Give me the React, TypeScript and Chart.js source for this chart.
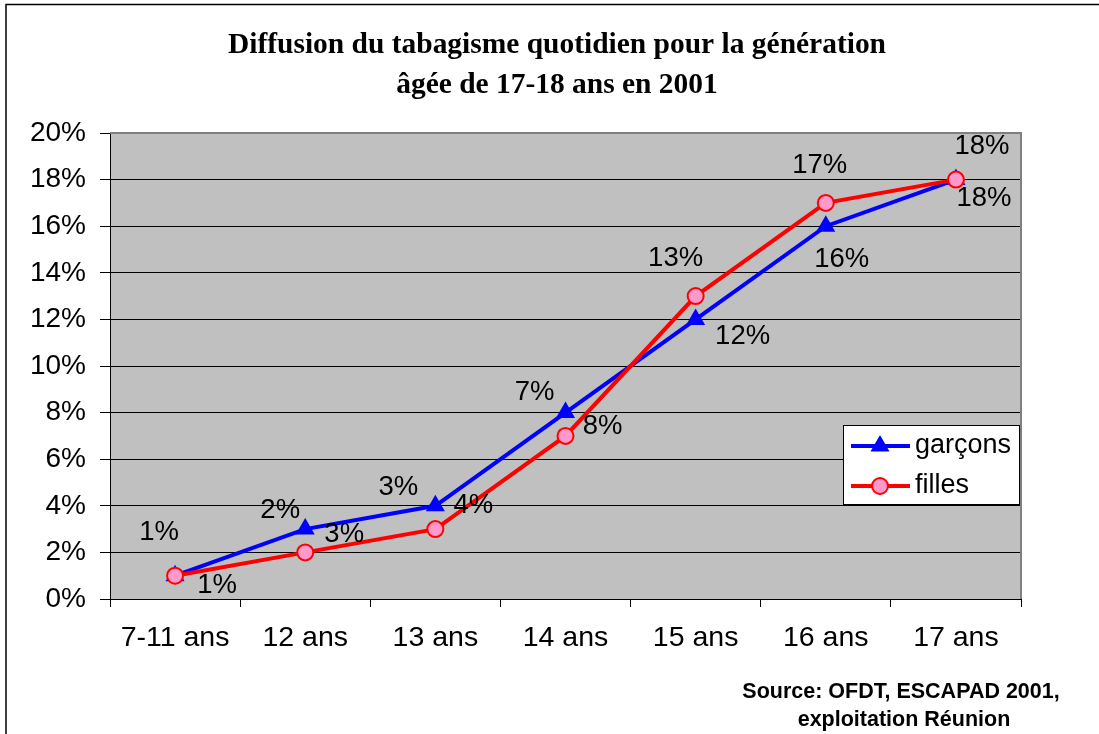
import React, { useEffect, useRef } from 'react';
import { Chart, registerables } from 'chart.js';

Chart.register(...registerables);

const categories = ['7-11 ans', '12 ans', '13 ans', '14 ans', '15 ans', '16 ans', '17 ans'];
const garcons = [1, 3, 4, 8, 12, 16, 18];
const filles = [1, 2, 3, 7, 13, 17, 18];
const yMin = 0;
const yMax = 20;
const yStep = 2;
const titleLines = ['Diffusion du tabagisme quotidien pour la génération', 'âgée de 17-18 ans en 2001'];
const sourceLines = ['Source: OFDT, ESCAPAD 2001,', 'exploitation Réunion'];
const seriesNames = ['garçons', 'filles'];

// label offsets (pixels, from each point to the label centre)
const garconsLabelOffsets = [[42, 10], [39, 5], [38, 0], [37, 14], [47, 17], [16, 33], [28, 19]];
const fillesLabelOffsets = [[-16, -43], [-25, -42], [-37, -42], [-31, -43], [-20, -38], [-6, -37], [26, -33]];

const SANS = '"Liberation Sans", Arial, sans-serif';
const SERIF = '"Liberation Serif", "Times New Roman", serif';

function drawMarker(ctx: CanvasRenderingContext2D, style: string, r: number, x: number, y: number, bw: number) {
  ctx.beginPath();
  if (style === 'triangle') {
    let rad = 0;
    ctx.moveTo(x + Math.sin(rad) * r, y - Math.cos(rad) * r);
    rad += (2 * Math.PI) / 3;
    ctx.lineTo(x + Math.sin(rad) * r, y - Math.cos(rad) * r);
    rad += (2 * Math.PI) / 3;
    ctx.lineTo(x + Math.sin(rad) * r, y - Math.cos(rad) * r);
    ctx.closePath();
  } else {
    ctx.arc(x, y, r, 0, Math.PI * 2);
  }
  ctx.fill();
  if (bw > 0) ctx.stroke();
}

const decorPlugin = {
  id: 'decor',
  beforeDraw(chart: any) {
    const { ctx, chartArea: a } = chart;
    ctx.save();
    ctx.fillStyle = '#ffffff';
    ctx.fillRect(0, 0, chart.width, chart.height);
    ctx.fillStyle = '#C0C0C0';
    ctx.fillRect(a.left, a.top, a.right - a.left, a.bottom - a.top);
    // outer frame
    ctx.strokeStyle = '#000';
    ctx.lineWidth = 1.5;
    ctx.beginPath();
    ctx.moveTo(6, chart.height);
    ctx.lineTo(6, 4.5);
    ctx.lineTo(chart.width, 4.5);
    ctx.stroke();
    // title
    ctx.fillStyle = '#000';
    ctx.font = 'bold 30px ' + SERIF;
    ctx.textAlign = 'center';
    ctx.textBaseline = 'alphabetic';
    const w0 = ctx.measureText(titleLines[0]).width;
    const sx = 658 / w0;
    ctx.save();
    ctx.translate(557, 0);
    ctx.scale(sx, 1);
    ctx.fillText(titleLines[0], 0, 53);
    ctx.fillText(titleLines[1], 0, 93);
    ctx.restore();
    // source
    ctx.font = 'bold 21.5px ' + SANS;
    ctx.textBaseline = 'middle';
    ctx.fillText(sourceLines[0], 901, 692);
    ctx.fillText(sourceLines[1], 904, 720);
    ctx.restore();
  },
  beforeDatasetsDraw(chart: any) {
    const { ctx, chartArea: a } = chart;
    ctx.save();
    ctx.strokeStyle = '#808080';
    ctx.lineWidth = 2;
    ctx.beginPath();
    ctx.moveTo(a.left, a.top);
    ctx.lineTo(a.right, a.top);
    ctx.lineTo(a.right, a.bottom);
    ctx.stroke();
    ctx.restore();
  },
  afterDatasetsDraw(chart: any) {
    const { ctx } = chart;
    ctx.save();
    ctx.fillStyle = '#000';
    ctx.font = '27.5px ' + SANS;
    ctx.textAlign = 'center';
    ctx.textBaseline = 'middle';
    const sets = [
      { idx: 0, vals: garcons, offs: garconsLabelOffsets },
      { idx: 1, vals: filles, offs: fillesLabelOffsets },
    ];
    sets.forEach((s) => {
      const meta = chart.getDatasetMeta(s.idx);
      meta.data.forEach((pt: any, i: number) => {
        const [dx, dy] = s.offs[i];
        ctx.fillText(s.vals[i] + '%', pt.x + dx, pt.y + dy);
      });
    });
    // legend
    const bx = 843, by = 425, bw = 176, bh = 79;
    ctx.fillStyle = '#fff';
    ctx.fillRect(bx, by, bw, bh);
    ctx.strokeStyle = '#000';
    ctx.lineWidth = 1;
    ctx.strokeRect(bx + 0.5, by + 0.5, bw, bh);
    const rows = [by + 21, by + 61];
    chart.data.datasets.forEach((ds: any, i: number) => {
      const y = rows[i];
      ctx.strokeStyle = ds.borderColor;
      ctx.lineWidth = ds.borderWidth;
      ctx.beginPath();
      ctx.moveTo(851, y);
      ctx.lineTo(910, y);
      ctx.stroke();
      ctx.fillStyle = ds.pointBackgroundColor;
      ctx.strokeStyle = ds.pointBorderColor;
      ctx.lineWidth = ds.pointBorderWidth;
      drawMarker(ctx, ds.pointStyle, ds.pointRadius, 880, y, ds.pointBorderWidth);
      ctx.fillStyle = '#000';
      ctx.font = '27px ' + SANS;
      ctx.textAlign = 'left';
      ctx.textBaseline = 'middle';
      ctx.fillText(seriesNames[i], 915, y);
    });
    ctx.restore();
  },
};

export default function App() {
  const ref = useRef<HTMLCanvasElement | null>(null);
  useEffect(() => {
    if (!ref.current) return;
    const chart = new Chart(ref.current, {
      type: 'line',
      data: {
        labels: categories,
        datasets: [
          {
            label: seriesNames[0],
            data: garcons,
            borderColor: '#0000FF',
            backgroundColor: '#0000FF',
            borderWidth: 4,
            pointStyle: 'triangle',
            pointRadius: 11,
            pointBackgroundColor: '#0000FF',
            pointBorderColor: '#0000FF',
            pointBorderWidth: 0,
            tension: 0,
            order: 2,
          },
          {
            label: seriesNames[1],
            data: filles,
            borderColor: '#FF0000',
            backgroundColor: '#FF99CC',
            borderWidth: 4,
            pointStyle: 'circle',
            pointRadius: 8,
            pointBackgroundColor: '#FF99CC',
            pointBorderColor: '#FF0000',
            pointBorderWidth: 2,
            tension: 0,
            order: 1,
          },
        ],
      },
      options: {
        responsive: false,
        animation: false,
        devicePixelRatio: 1,
        layout: { padding: { top: 133, right: 78, bottom: 0, left: 0 } },
        plugins: {
          legend: { display: false },
          title: { display: false },
          tooltip: { enabled: false },
        },
        scales: {
          x: {
            type: 'category',
            offset: true,
            grid: {
              offset: true,
              drawOnChartArea: false,
              drawTicks: true,
              tickLength: 8,
              color: '#000',
              lineWidth: 1,
            },
            border: { display: true, color: '#000', width: 1 },
            ticks: {
              color: '#000',
              font: { family: SANS, size: 28.5 },
              padding: 14,
              maxRotation: 0,
              autoSkip: false,
            },
            afterFit: (s: any) => {
              s.height = 135;
            },
          },
          y: {
            min: yMin,
            max: yMax,
            ticks: {
              stepSize: yStep,
              color: '#000',
              font: { family: SANS, size: 28 },
              padding: 14,
              callback: (v: any) => v + '%',
            },
            grid: {
              color: '#000',
              lineWidth: 1,
              tickLength: 10,
              drawTicks: true,
            },
            border: { display: true, color: '#000', width: 1 },
            afterFit: (s: any) => {
              s.width = 110;
            },
          },
        },
      },
      plugins: [decorPlugin],
    });
    return () => chart.destroy();
  }, []);
  return (
    <div style={{ position: 'fixed', left: 0, top: 0, width: 1099, height: 734, background: '#fff' }}>
      <canvas ref={ref} width={1099} height={734} style={{ display: 'block' }} />
    </div>
  );
}
